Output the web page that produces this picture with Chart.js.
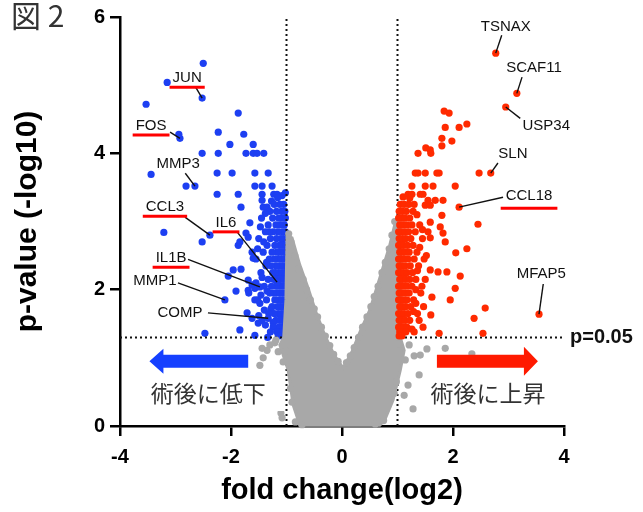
<!DOCTYPE html>
<html>
<head>
<meta charset="utf-8">
<script src="https://cdn.jsdelivr.net/npm/chart.js@4.4.1/dist/chart.umd.min.js"></script>
<style>
  html, body { margin: 0; padding: 0; background: #fff; }
  #wrap { width: 643px; height: 512px; }
</style>
</head>
<body>
<div id="wrap"><canvas id="volcano" width="643" height="512"></canvas></div>
<script>
// --- data (log2 fold change, -log10 p) ---
const xTicks = [-4, -2, 0, 2, 4];
const yTicks = [0, 2, 4, 6];
const fcCut = [-1, 1];
const pCut = 1.3; // -log10(0.05)

// labelled genes
const geneNames = ['JUN', 'FOS', 'MMP3', 'CCL3', 'IL6', 'IL1B', 'MMP1', 'COMP',
  'TSNAX', 'SCAF11', 'USP34', 'SLN', 'CCL18', 'MFAP5'];
const geneFC = [-2.52, -2.92, -2.65, -2.38, -1.17, -1.48, -2.11, -1.33,
  2.77, 3.15, 2.95, 2.68, 2.11, 3.55];
const geneP = [4.81, 4.22, 3.52, 2.80, 2.11, 2.04, 1.85, 1.58,
  5.47, 4.88, 4.68, 3.71, 3.21, 1.64];
const geneMarked = [true, true, false, true, true, true, false, false,
  false, false, false, false, true, false];

// decreased after surgery (blue)
const downGenes = [
  [-2.50,5.32],[-3.15,5.04],[-3.53,4.72],[-1.87,4.59],[-2.94,4.28],[-2.23,4.31],[-1.77,4.28],
  [-2.02,4.13],[-1.60,4.13],[-2.52,4.00],[-2.23,4.00],[-1.73,4.00],[-1.60,4.00],[-1.53,4.00],
  [-1.41,4.00],[-3.44,3.69],[-2.25,3.71],[-1.98,3.71],[-1.57,3.71],[-1.33,3.71],[-2.81,3.52],
  [-1.57,3.52],[-1.44,3.52],[-1.26,3.52],[-2.25,3.40],[-1.87,3.40],[-1.44,3.40],[-1.23,3.40],
  [-1.17,3.40],[-1.82,3.21],[-1.44,3.31],[-1.42,3.21],[-1.35,3.21],[-3.21,2.84],[-2.52,2.70],
  [-1.87,2.65],[-1.84,2.70],[-1.73,2.83],[-1.69,2.77],[-1.66,2.98],[-1.62,2.55],[-1.60,2.46],
  [-1.96,2.29],[-1.82,2.30],[-2.05,2.20],[-1.69,2.14],[-1.62,2.07],[-1.57,2.02],[-1.69,1.99],
  [-1.68,1.95],[-1.91,1.98],[-1.57,1.85],[-1.48,1.80],[-1.71,1.66],[-1.62,1.58],[-1.51,1.51],
  [-2.47,1.36],[-1.84,1.41],[-1.57,1.33],
  [-1.02,3.42],[-1.08,3.38],[-1.16,3.35],[-1.27,3.30],
  [-1.05,3.25],[-1.12,3.25],[-1.22,3.25],
  [-1.03,3.15],[-1.09,3.15],[-1.18,3.15],[-1.30,3.15],[-1.38,3.12],
  [-1.02,3.05],[-1.08,3.05],[-1.14,3.05],[-1.25,3.05],[-1.45,3.05],
  [-1.04,2.95],[-1.11,2.95],[-1.19,2.95],[-1.33,2.95],[-1.47,2.92],
  [-1.02,2.85],[-1.07,2.85],[-1.15,2.85],[-1.24,2.85],[-1.31,2.85],[-1.38,2.85],
  [-1.05,2.75],[-1.10,2.75],[-1.18,2.75],[-1.29,2.75],[-1.50,2.75],
  [-1.03,2.65],[-1.08,2.65],[-1.13,2.65],[-1.21,2.65],[-1.35,2.65],[-1.41,2.70],
  [-1.02,2.55],[-1.06,2.55],[-1.12,2.55],[-1.17,2.55],[-1.26,2.55],[-1.42,2.55],[-1.52,2.60],
  [-1.04,2.45],[-1.09,2.45],[-1.15,2.45],[-1.22,2.45],[-1.31,2.45],[-1.55,2.45],
  [-1.02,2.35],[-1.07,2.35],[-1.12,2.35],[-1.19,2.35],[-1.28,2.35],[-1.37,2.35],[-1.36,2.40],
  [-1.03,2.25],[-1.08,2.25],[-1.14,2.25],[-1.20,2.25],[-1.25,2.25],[-1.46,2.25],
  [-1.02,2.15],[-1.06,2.15],[-1.11,2.15],[-1.17,2.15],[-1.23,2.15],[-1.33,2.15],[-1.44,2.18],
  [-1.04,2.05],[-1.09,2.05],[-1.14,2.05],[-1.19,2.05],[-1.27,2.05],[-1.40,2.05],[-1.55,2.10],
  [-1.02,1.95],[-1.07,1.95],[-1.12,1.95],[-1.18,1.95],[-1.24,1.95],[-1.30,1.95],[-1.35,1.98],
  [-1.46,1.92],
  [-1.03,1.85],[-1.08,1.85],[-1.13,1.85],[-1.21,1.85],[-1.36,1.85],[-1.52,1.85],
  [-1.02,1.75],[-1.06,1.75],[-1.11,1.75],[-1.16,1.75],[-1.26,1.75],[-1.28,1.72],[-1.40,1.70],
  [-1.04,1.65],[-1.09,1.65],[-1.15,1.65],[-1.22,1.65],[-1.32,1.65],[-1.50,1.62],
  [-1.02,1.55],[-1.07,1.55],[-1.12,1.55],[-1.19,1.55],[-1.44,1.55],[-1.24,1.52],
  [-1.03,1.45],[-1.08,1.45],[-1.14,1.45],[-1.24,1.45],[-1.38,1.48],
  [-1.02,1.38],[-1.06,1.38],[-1.11,1.38],[-1.17,1.38],[-1.29,1.38],
  [-1.04,1.32],[-1.09,1.32],[-1.15,1.32],[-1.34,1.30]
];

// increased after surgery (red)
const upGenes = [
  [1.84,4.62],[1.93,4.59],[1.86,4.38],[2.11,4.38],[2.25,4.43],[1.80,4.22],[1.98,4.18],
  [1.80,4.11],[1.51,4.08],[1.59,4.05],[1.60,4.00],[1.37,4.00],[1.32,3.71],[1.37,3.71],
  [1.50,3.71],[1.71,3.71],[1.75,3.71],[2.47,3.71],[1.26,3.52],[1.50,3.52],[1.64,3.52],
  [2.04,3.52],[1.19,3.40],[1.26,3.40],[1.41,3.40],[1.46,3.40],[1.55,3.31],[1.68,3.31],
  [1.82,3.31],[1.50,3.24],[1.59,3.24],[1.80,3.09],[1.59,2.99],[2.45,2.96],[1.77,2.92],
  [1.82,2.83],[1.59,2.76],[1.86,2.70],[2.05,2.54],[2.25,2.60],[1.59,2.29],[1.73,2.26],
  [1.89,2.26],[2.13,2.20],[2.04,2.02],[1.62,1.89],[1.95,1.85],[2.58,1.73],[2.38,1.58],
  [1.60,1.63],[1.46,1.45],[1.75,1.36],[2.54,1.36],
  [1.10,3.36],[1.22,3.34],[1.30,3.25],
  [1.05,3.25],[1.12,3.25],[1.20,3.25],
  [1.03,3.15],[1.09,3.15],[1.16,3.15],[1.28,3.15],[1.35,3.10],
  [1.02,3.05],[1.07,3.05],[1.13,3.05],[1.22,3.05],
  [1.04,2.95],[1.10,2.95],[1.17,2.95],[1.26,2.95],[1.40,2.95],
  [1.02,2.85],[1.07,2.85],[1.13,2.85],[1.20,2.85],[1.32,2.85],[1.45,2.88],[1.55,2.85],
  [1.03,2.75],[1.09,2.75],[1.15,2.75],[1.24,2.75],[1.45,2.75],
  [1.02,2.65],[1.06,2.65],[1.11,2.65],[1.18,2.65],[1.28,2.65],[1.40,2.62],
  [1.04,2.55],[1.09,2.55],[1.14,2.55],[1.21,2.55],[1.35,2.55],[1.52,2.50],
  [1.02,2.45],[1.07,2.45],[1.12,2.45],[1.19,2.45],[1.30,2.45],[1.48,2.45],
  [1.03,2.35],[1.08,2.35],[1.14,2.35],[1.23,2.35],[1.38,2.35],
  [1.02,2.25],[1.06,2.25],[1.11,2.25],[1.17,2.25],[1.27,2.25],[1.36,2.28],
  [1.04,2.15],[1.09,2.15],[1.15,2.15],[1.22,2.15],[1.33,2.15],[1.50,2.15],
  [1.02,2.05],[1.07,2.05],[1.12,2.05],[1.18,2.05],[1.26,2.05],[1.44,2.05],[1.33,2.00],
  [1.03,1.95],[1.08,1.95],[1.14,1.95],[1.21,1.95],[1.42,1.95],
  [1.02,1.85],[1.06,1.85],[1.11,1.85],[1.17,1.85],[1.29,1.85],[1.33,1.80],
  [1.04,1.75],[1.09,1.75],[1.15,1.75],[1.24,1.75],[1.47,1.75],
  [1.02,1.65],[1.07,1.65],[1.12,1.65],[1.19,1.65],[1.36,1.65],[1.29,1.68],
  [1.03,1.55],[1.08,1.55],[1.14,1.55],[1.22,1.55],[1.39,1.55],
  [1.02,1.45],[1.06,1.45],[1.11,1.45],[1.17,1.45],[1.26,1.42],
  [1.04,1.38],[1.09,1.38],[1.15,1.38],[1.30,1.38],
  [1.03,1.32],[1.08,1.32]
];

// not significant (grey): outline of the dense cloud, then loose points
const nsCloud = [
  [-0.99,2.79],[-0.90,2.76],[-0.76,2.36],[-0.61,2.02],[-0.47,1.67],[-0.31,1.33],[-0.14,1.04],
  [0.02,0.85],[0.18,1.09],[0.34,1.41],[0.50,1.70],[0.68,2.17],[0.86,2.65],[0.95,2.95],
  [1.03,2.96],[1.05,2.43],[1.05,1.30],[1.12,1.11],[1.05,0.82],[0.92,0.38],[0.77,0.09],
  [0.68,0.01],[-0.76,0.01],[-0.88,0.31],[-0.97,0.82],[-1.12,1.19],[-1.05,1.30],[-1.01,1.85],
  [-0.99,2.79]
];
const nsGenes = [
  [-1.42,1.00],[-1.48,0.89],[-1.35,1.11],[-1.44,1.14],[-1.30,1.19],[-1.21,1.22],[-1.19,1.26],
  [-1.15,1.09],[-1.06,0.94],[-1.10,0.19],[-1.08,0.12],
  [1.53,1.13],[1.86,1.14],[2.34,1.06],[1.30,1.03],[1.41,1.04],[1.39,0.75],[1.28,0.25],
  [1.21,1.19],[1.14,0.97],[1.19,0.60],[1.12,0.45],
  [-0.92,2.70],[-0.85,2.50],[-0.78,2.30],[-0.70,2.15],[-0.64,2.00],[-0.57,1.85],[-0.50,1.72],
  [-0.44,1.60],[-0.37,1.45],[-0.30,1.32],[-0.22,1.18],[-0.15,1.05],[-0.07,0.95],
  [0.08,0.93],[0.15,1.03],[0.22,1.15],[0.30,1.30],[0.37,1.45],[0.45,1.60],[0.52,1.75],
  [0.58,1.90],[0.65,2.05],[0.72,2.25],[0.78,2.40],[0.85,2.60],[0.90,2.80],[0.95,3.00],
  [-0.96,2.82],[-0.93,0.55],[-0.90,0.35],[-0.84,0.06],[-0.72,0.02],[0.60,0.03],[0.75,0.08],
  [0.98,0.65],[0.94,0.48],[1.02,1.20],[-1.01,1.10]
];

// --- layout for annotations (not data) ---
const labelAt = [[-2.79,5.10],[-3.44,4.40],[-2.95,3.84],[-3.19,3.21],[-2.09,2.98],[-3.08,2.46],
  [-3.37,2.13],[-2.92,1.66],[2.95,5.85],[3.46,5.25],[3.68,4.41],[3.08,3.99],[3.37,3.37],[3.59,2.23]];
const leaderFrom = [[8,8],[19,6],[7,9],[20,10],[11,9],[17,1],[23,2],[28,0],
  [-4,8],[-12,9],[-26,-7],[-15,9],[-26,1],[2,10]];

const BLUE = '#1d3ff2';
const RED = '#ff2a00';
const GREY = '#a8a8a8';
const TXT = '#111';
const SANS = '"Liberation Sans", Arial, Helvetica, sans-serif';
const JP = '"Noto Sans CJK JP", sans-serif';

const toXY = arr => arr.map(p => ({ x: p[0], y: p[1] }));
const labelled = sign => geneFC
  .map((fc, i) => ({ x: fc, y: geneP[i] }))
  .filter(p => Math.sign(p.x) === sign);

const overlay = {
  id: 'overlay',
  beforeDraw(chart) {
    const { ctx, width, height } = chart;
    ctx.save();
    ctx.fillStyle = '#fff';
    ctx.fillRect(0, 0, width, height);
    ctx.restore();
  },
  afterDatasetsDraw(chart) {
    const { ctx, scales: { x, y } } = chart;
    ctx.save();

    // white boxes for the direction captions
    ctx.fillStyle = '#fff';
    ctx.fillRect(x.getPixelForValue(-3.68), y.getPixelForValue(0.76), x.getPixelForValue(-1.03) - x.getPixelForValue(-3.68), y.getPixelForValue(0.22) - y.getPixelForValue(0.76));
    ctx.fillRect(x.getPixelForValue(1.48), y.getPixelForValue(0.76), x.getPixelForValue(3.78) - x.getPixelForValue(1.48), y.getPixelForValue(0.22) - y.getPixelForValue(0.76));

    // arrows
    const arrow = (x0, x1, yv, color, headW) => {
      const a = x.getPixelForValue(x0), b = x.getPixelForValue(x1), cy = y.getPixelForValue(yv);
      const dir = Math.sign(b - a), headL = 14, half = 6.5;
      ctx.fillStyle = color;
      ctx.beginPath();
      ctx.moveTo(a, cy - half);
      ctx.lineTo(b - dir * headL, cy - half);
      ctx.lineTo(b - dir * headL, cy - headW);
      ctx.lineTo(b, cy);
      ctx.lineTo(b - dir * headL, cy + headW);
      ctx.lineTo(b - dir * headL, cy + half);
      ctx.lineTo(a, cy + half);
      ctx.closePath();
      ctx.fill();
    };
    arrow(-1.69, -3.47, 0.95, '#1540ff', 12.5);
    arrow(1.71, 3.53, 0.95, '#ff1a00', 14.5);

    ctx.fillStyle = '#333';
    ctx.font = '23px ' + JP;
    ctx.textAlign = 'center';
    ctx.textBaseline = 'middle';
    ctx.fillText('術後に低下', x.getPixelForValue(-2.41), y.getPixelForValue(0.48));
    ctx.fillText('術後に上昇', x.getPixelForValue(2.63), y.getPixelForValue(0.48));

    // gene labels with leader lines
    ctx.font = '15px ' + SANS;
    geneNames.forEach((name, i) => {
      const cx = x.getPixelForValue(labelAt[i][0]);
      const cy = y.getPixelForValue(labelAt[i][1]);
      const px = x.getPixelForValue(geneFC[i]);
      const py = y.getPixelForValue(geneP[i]);
      ctx.fillStyle = TXT;
      ctx.fillText(name, cx, cy);
      ctx.strokeStyle = TXT;
      ctx.lineWidth = 1.4;
      ctx.beginPath();
      ctx.moveTo(cx + leaderFrom[i][0], cy + leaderFrom[i][1]);
      ctx.lineTo(px, py);
      ctx.stroke();
      if (geneMarked[i]) {
        const w = ctx.measureText(name).width;
        const off = name === 'CCL18' ? 12 : 9;
        const pad = name === 'CCL18' ? 5 : 3;
        ctx.strokeStyle = '#ff0000';
        ctx.lineWidth = 3;
        ctx.beginPath();
        ctx.moveTo(cx - w / 2 - pad, cy + off);
        ctx.lineTo(cx + w / 2 + pad, cy + off);
        ctx.stroke();
      }
    });
    ctx.restore();
  },
  afterDraw(chart) {
    const { ctx, scales: { y } } = chart;
    ctx.save();
    ctx.fillStyle = '#111';
    ctx.font = 'bold 20px ' + SANS;
    ctx.textAlign = 'left';
    ctx.textBaseline = 'middle';
    ctx.fillText('p=0.05', 570, y.getPixelForValue(pCut));
    ctx.fillStyle = '#333';
    ctx.font = '30px ' + JP;
    ctx.textBaseline = 'top';
    ctx.fillText('図 2', 11, 1);
    ctx.restore();
  }
};

const dotted = (pts) => ({
  type: 'line',
  data: toXY(pts),
  borderColor: '#111',
  borderWidth: 2,
  borderDash: [2, 3],
  pointRadius: 0,
  fill: false,
  order: 4
});

new Chart(document.getElementById('volcano'), {
  type: 'scatter',
  data: {
    datasets: [
      {
        label: 'down',
        data: toXY(downGenes).concat(labelled(-1)),
        backgroundColor: BLUE,
        pointRadius: 3.6,
        borderWidth: 0,
        order: 5
      },
      dotted([[fcCut[0], 0], [fcCut[0], 6]]),
      dotted([[fcCut[1], 0], [fcCut[1], 6]]),
      dotted([[-4, pCut], [4, pCut]]),
      {
        label: 'ns cloud',
        type: 'line',
        data: toXY(nsCloud),
        borderColor: GREY,
        backgroundColor: GREY,
        borderWidth: 3,
        pointRadius: 0,
        fill: 'shape',
        tension: 0,
        clip: false,
        order: 3
      },
      {
        label: 'ns',
        data: toXY(nsGenes),
        backgroundColor: GREY,
        pointRadius: 3.6,
        borderWidth: 0,
        clip: false,
        order: 2
      },
      {
        label: 'up',
        data: toXY(upGenes).concat(labelled(1)),
        backgroundColor: RED,
        pointRadius: 3.6,
        borderWidth: 0,
        order: 1
      }
    ]
  },
  options: {
    responsive: false,
    animation: false,
    layout: { padding: { top: 17, right: 79, left: 0, bottom: 0 } },
    plugins: { legend: { display: false }, tooltip: { enabled: false } },
    scales: {
      x: {
        type: 'linear',
        min: -4, max: 4,
        afterBuildTicks: s => { s.ticks = xTicks.map(v => ({ value: v })); },
        afterFit: s => { s.height = 86; },
        grid: { drawOnChartArea: false, color: '#000', lineWidth: 2.5, tickLength: 10 },
        border: { color: '#000', width: 2.5 },
        ticks: { color: '#000', padding: 9, font: { family: SANS, size: 20, weight: 'bold' } },
        title: { display: true, text: 'fold change(log2)', color: '#000', padding: { top: 0, bottom: 4 },
          font: { family: SANS, size: 29, weight: 'bold' } }
      },
      y: {
        type: 'linear',
        min: 0, max: 6,
        afterBuildTicks: s => { s.ticks = yTicks.map(v => ({ value: v })); },
        afterFit: s => { s.width = 120; },
        grid: { drawOnChartArea: false, color: '#000', lineWidth: 2.5, tickLength: 10 },
        border: { color: '#000', width: 2.5 },
        ticks: { color: '#000', padding: 5, font: { family: SANS, size: 20, weight: 'bold' } },
        title: { display: true, text: 'p-value (-log10)', color: '#000', padding: { top: 10, bottom: 0 },
          font: { family: SANS, size: 30, weight: 'bold' } }
      }
    }
  },
  plugins: [overlay]
});
</script>
</body>
</html>
